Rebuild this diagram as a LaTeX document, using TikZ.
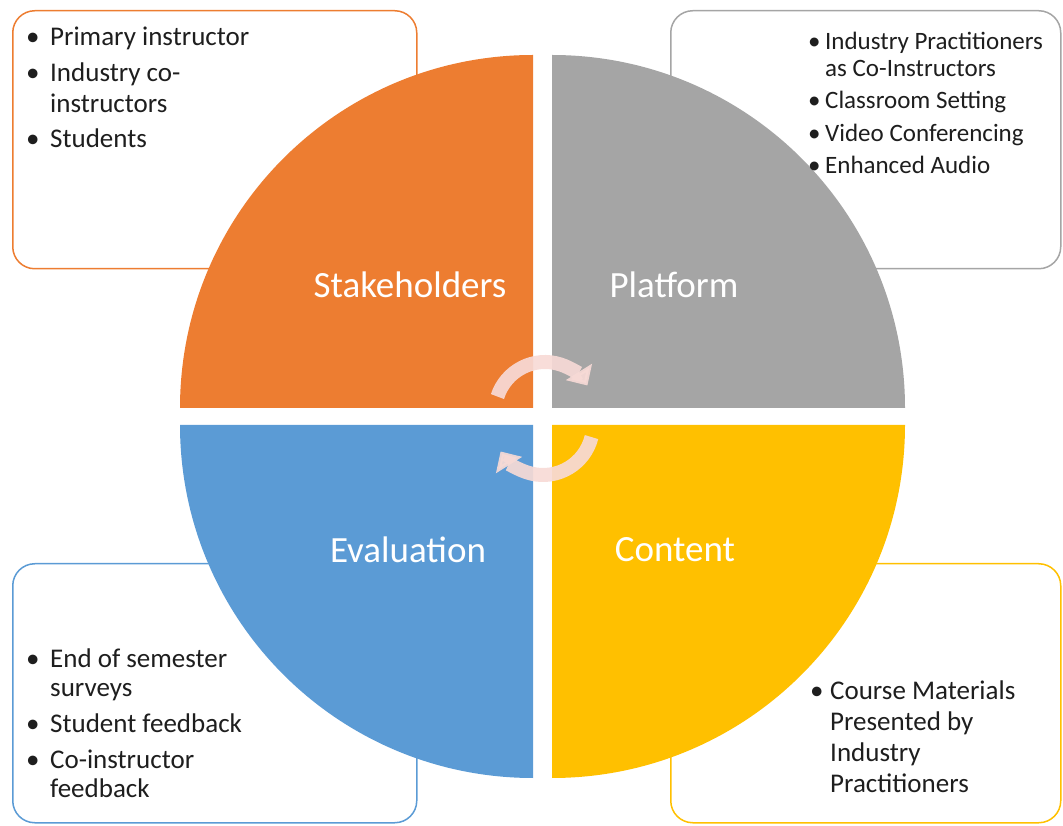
\documentclass[tikz,border=0pt]{standalone}
\usepackage{fontspec}
\setmainfont{Carlito}
\usetikzlibrary{arrows.meta}
\definecolor{cOrange}{HTML}{ED7D31}
\definecolor{cGray}{HTML}{A5A5A5}
\definecolor{cBlue}{HTML}{5B9BD5}
\definecolor{cYellow}{HTML}{FFC000}
\definecolor{cArrow}{HTML}{F7DAD6}
\definecolor{cText}{HTML}{1E1E1E}
\newcommand\bitem[2]{\par\hangindent=#1\hangafter=1\noindent\makebox[#1][l]{\textbullet}#2}
\newcommand\bullist[4]{\parbox[t]{#1}{\raggedright\fontsize{#2}{#3}\selectfont#4\par}}
\begin{document}
\begin{tikzpicture}[x=1pt,y=1pt,
  infobox/.style={draw, line width=1.5pt, rounded corners=22pt, fill=white,
    inner sep=0pt, anchor=north west},
  listtext/.style={anchor=base west, inner sep=0pt, text=cText},
  quadlabel/.style={text=white, font=\fontsize{37}{40}\selectfont, inner sep=0pt},
  cyclearrow/.style={draw=cArrow, line width=14pt, opacity=0.92,
    -{Triangle[width=30pt,length=16pt]}}
]
\useasboundingbox (0,0) rectangle (1063,825);

% side boxes
\node[infobox, draw=cOrange, minimum width=404pt, minimum height=258pt] (tlbox) at (12,815) {};
\node[infobox, draw=cGray, minimum width=390pt, minimum height=258pt] (trbox) at (670,815) {};
\node[infobox, draw=cBlue, minimum width=404pt, minimum height=259pt] (blbox) at (12,262) {};
\node[infobox, draw=cYellow, minimum width=390pt, minimum height=259pt] (brbox) at (670,262) {};

% quadrants
\fill[cOrange] (533,417) -- ++(-353,0) arc[start angle=180, end angle=90, radius=353] -- cycle;
\fill[cGray] (552,417) -- ++(0,353) arc[start angle=90, end angle=0, radius=353] -- cycle;
\fill[cBlue] (533,400) -- ++(0,-353) arc[start angle=270, end angle=180, radius=353] -- cycle;
\fill[cYellow] (552,400) -- ++(353,0) arc[start angle=0, end angle=-90, radius=353] -- cycle;

% box texts
\node[listtext] (tltext) at (26,779) {\bullist{370pt}{27}{31}{\setlength\parskip{4.5pt}%
  \bitem{24pt}{Primary instructor}%
  \bitem{24pt}{Industry co-\newline instructors}%
  \bitem{24pt}{Students}}};
\node[listtext] (trtext) at (808,775) {\bullist{250pt}{25}{26.5}{\setlength\parskip{6pt}%
  \bitem{17pt}{Industry Practitioners\newline as Co-Instructors}%
  \bitem{17pt}{Classroom Setting}%
  \bitem{17pt}{Video Conferencing}%
  \bitem{17pt}{Enhanced Audio}}};
\node[listtext] (bltext) at (26,157) {\bullist{370pt}{27}{29}{\setlength\parskip{7pt}%
  \bitem{24pt}{End of semester\newline surveys}%
  \bitem{24pt}{Student feedback}%
  \bitem{24pt}{Co-instructor\newline feedback}}};
\node[listtext] (brtext) at (810,125) {\bullist{245pt}{27}{31}{%
  \bitem{20pt}{Course Materials\newline Presented by\newline Industry\newline Practitioners}}};

% quadrant labels
\node[quadlabel] (stake) at (410,540) {Stakeholders};
\node[quadlabel] (plat) at (674,540) {Platform};
\node[quadlabel] (eval) at (408,275) {Evaluation};
\node[quadlabel] (cont) at (675,275) {Content};

% cycle arrows
\coordinate (ctop) at (545,413);
\coordinate (cbot) at (543,400);
\draw[cyclearrow] ([shift={(162:50)}]ctop) arc[start angle=162, end angle=32, radius=50];
\draw[cyclearrow] ([shift={(-14:50)}]cbot) arc[start angle=-14, end angle=-148, radius=50];
\end{tikzpicture}
\end{document}
